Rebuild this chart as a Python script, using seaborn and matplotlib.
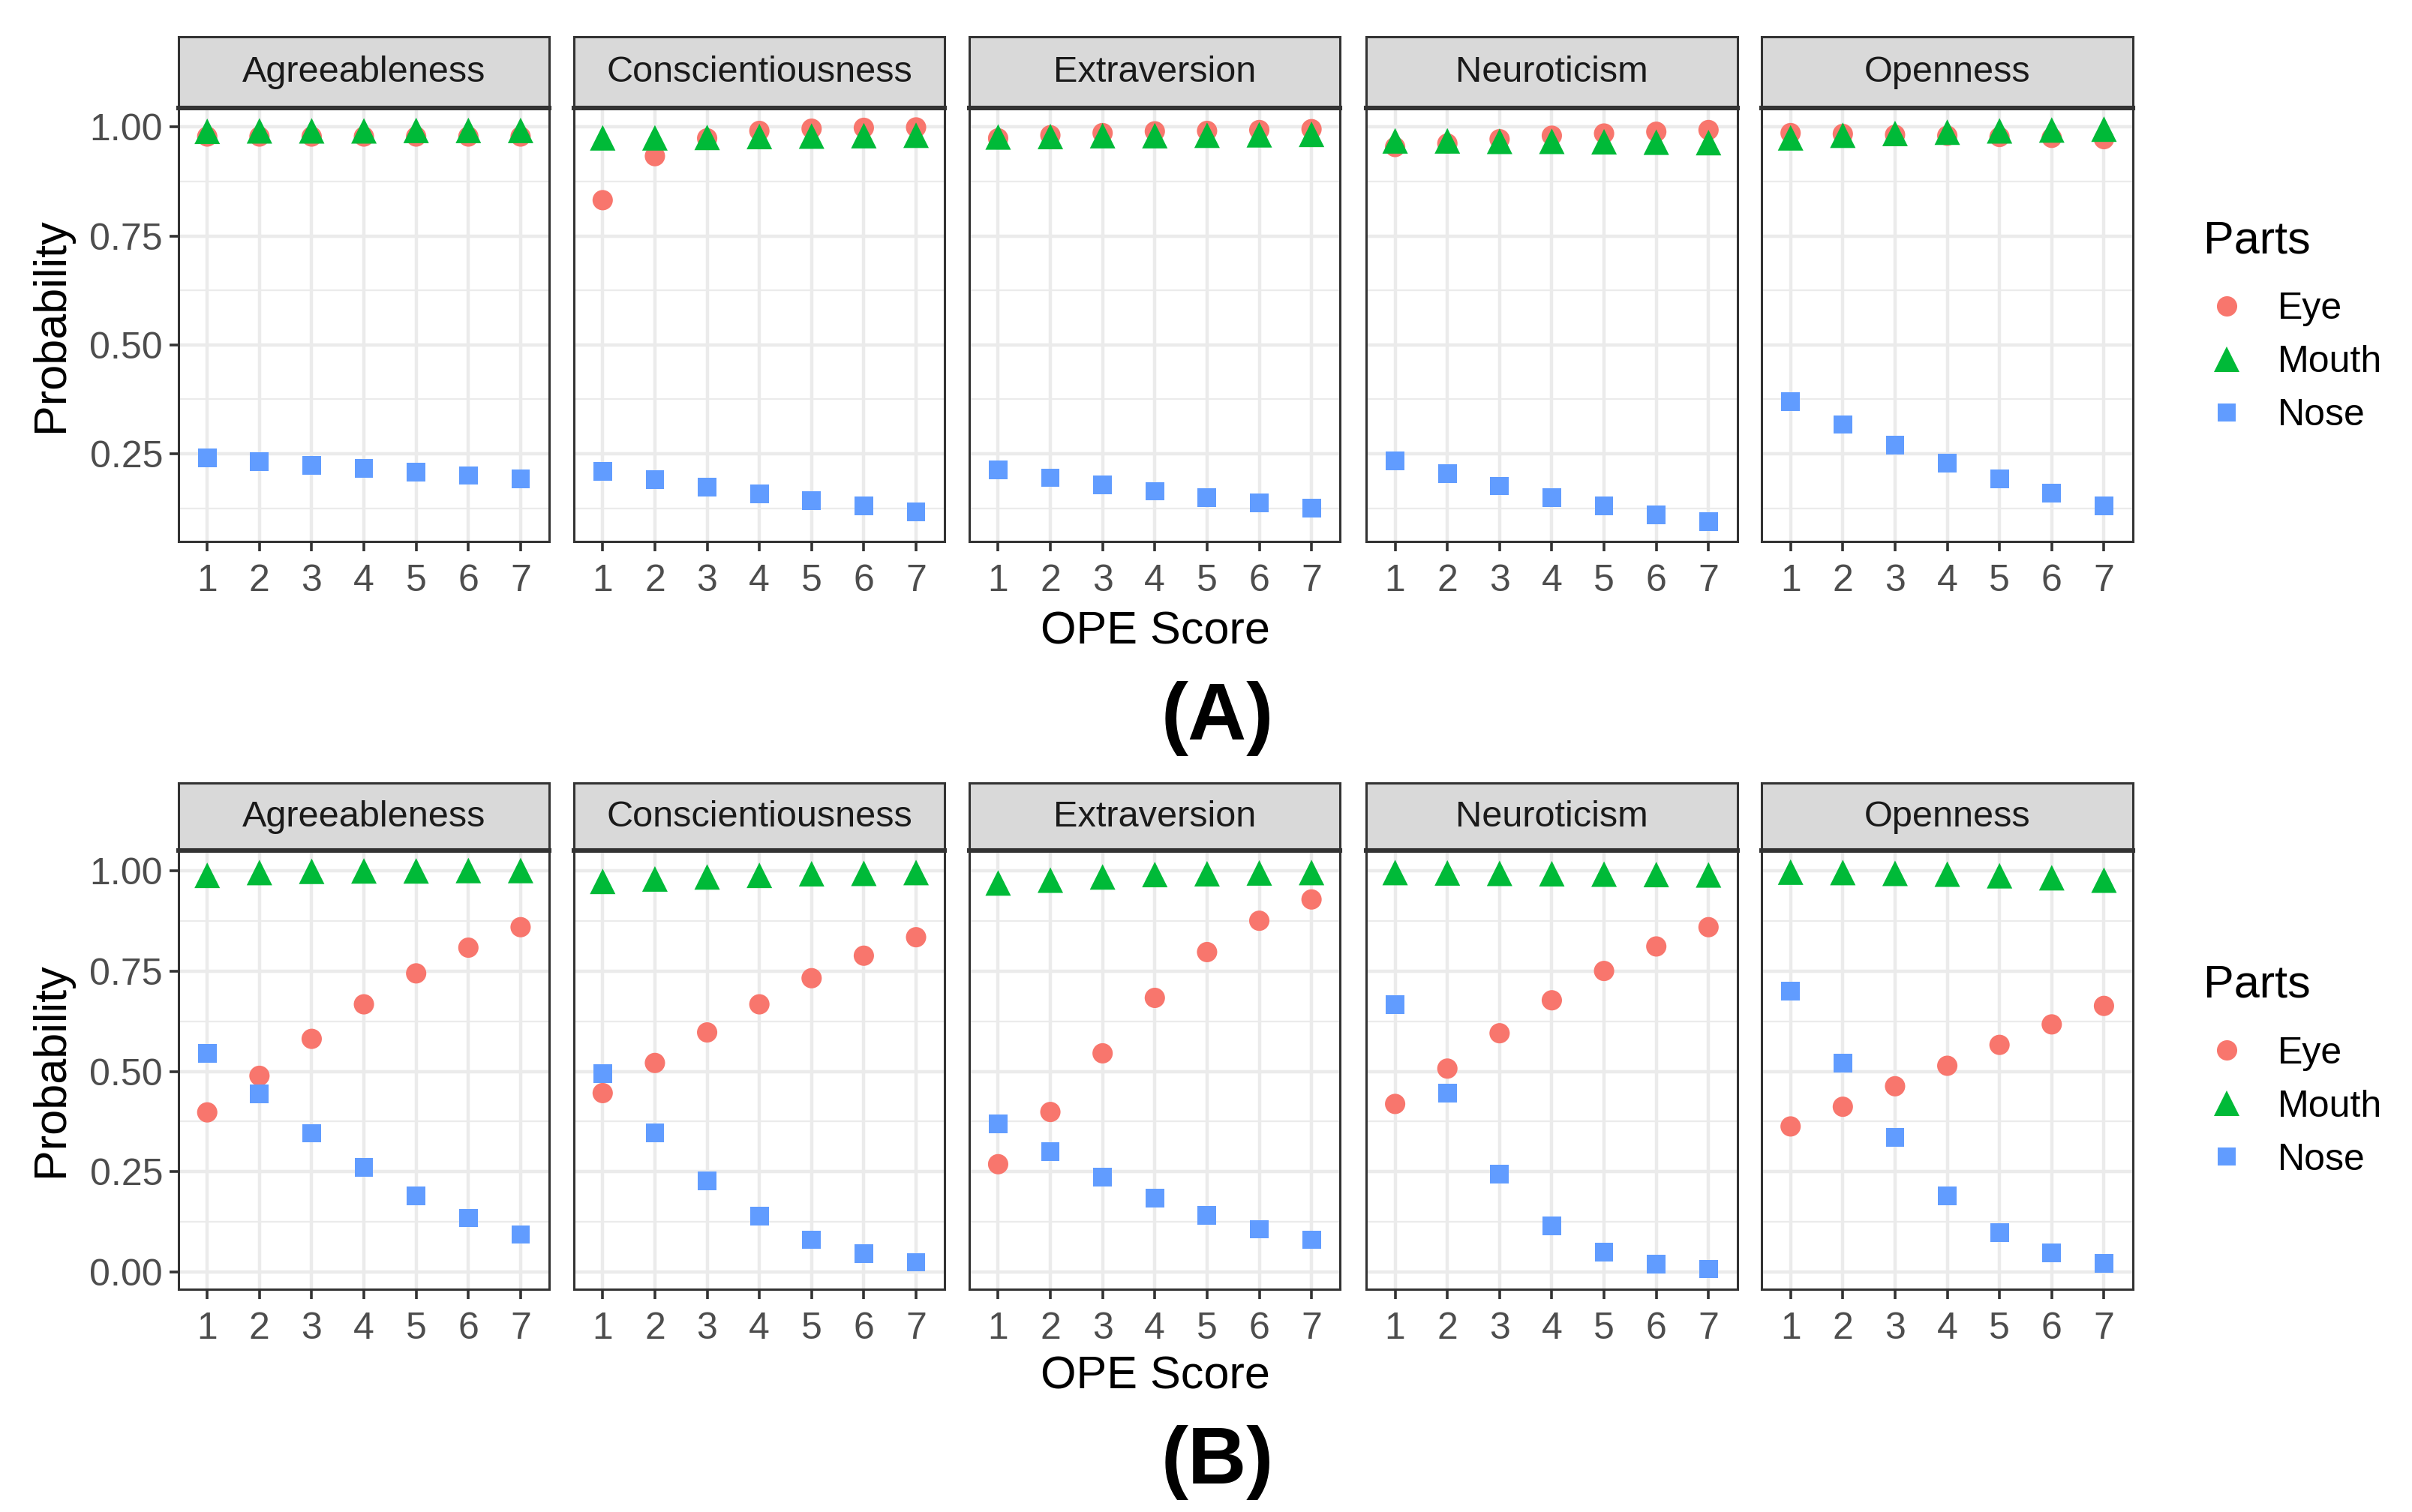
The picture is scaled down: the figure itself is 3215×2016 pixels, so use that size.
import numpy as np
import pandas as pd
import matplotlib
matplotlib.use("Agg")
import matplotlib.pyplot as plt
from matplotlib.ticker import MultipleLocator, FormatStrFormatter
import seaborn as sns

traits = ["Agreeableness", "Conscientiousness", "Extraversion", "Neuroticism", "Openness"]
scores = [1, 2, 3, 4, 5, 6, 7]
parts = ["Eye", "Mouth", "Nose"]
colors = {"Eye": "#F8766D", "Mouth": "#00BA38", "Nose": "#619CFF"}
markers = {"Eye": "o", "Mouth": "^", "Nose": "s"}
msizes = {"Eye": 95, "Mouth": 150, "Nose": 80}

# (A) one row per trait, values for OPE score 1..7
a_eye = [
    [0.978, 0.978, 0.978, 0.978, 0.978, 0.978, 0.978],
    [0.832, 0.933, 0.974, 0.991, 0.996, 0.998, 0.999],
    [0.974, 0.981, 0.986, 0.990, 0.991, 0.993, 0.995],
    [0.954, 0.962, 0.972, 0.980, 0.985, 0.989, 0.993],
    [0.986, 0.984, 0.982, 0.980, 0.977, 0.975, 0.972],
]
a_mouth = [
    [0.990, 0.991, 0.991, 0.991, 0.992, 0.992, 0.992],
    [0.975, 0.975, 0.976, 0.978, 0.979, 0.980, 0.981],
    [0.977, 0.978, 0.980, 0.980, 0.981, 0.982, 0.983],
    [0.968, 0.968, 0.967, 0.967, 0.966, 0.965, 0.964],
    [0.975, 0.981, 0.985, 0.988, 0.991, 0.993, 0.995],
]
a_nose = [
    [0.241, 0.232, 0.224, 0.216, 0.208, 0.200, 0.192],
    [0.209, 0.191, 0.173, 0.158, 0.143, 0.130, 0.117],
    [0.213, 0.195, 0.179, 0.164, 0.150, 0.137, 0.125],
    [0.234, 0.204, 0.176, 0.150, 0.130, 0.110, 0.094],
    [0.369, 0.317, 0.270, 0.228, 0.192, 0.159, 0.131],
]

# (B)
b_eye = [
    [0.398, 0.489, 0.581, 0.667, 0.744, 0.808, 0.859],
    [0.446, 0.521, 0.597, 0.667, 0.732, 0.788, 0.834],
    [0.269, 0.399, 0.545, 0.683, 0.797, 0.875, 0.928],
    [0.419, 0.507, 0.595, 0.677, 0.750, 0.811, 0.859],
    [0.363, 0.412, 0.463, 0.514, 0.566, 0.617, 0.663],
]
b_mouth = [
    [0.988, 0.995, 0.998, 0.999, 0.999, 1.000, 1.000],
    [0.973, 0.979, 0.984, 0.988, 0.992, 0.993, 0.995],
    [0.969, 0.976, 0.984, 0.990, 0.992, 0.994, 0.995],
    [0.995, 0.994, 0.993, 0.992, 0.991, 0.990, 0.989],
    [0.996, 0.995, 0.993, 0.991, 0.987, 0.982, 0.976],
]
b_nose = [
    [0.545, 0.444, 0.346, 0.261, 0.190, 0.135, 0.094],
    [0.494, 0.347, 0.227, 0.139, 0.081, 0.046, 0.025],
    [0.370, 0.300, 0.237, 0.184, 0.142, 0.107, 0.081],
    [0.666, 0.446, 0.245, 0.116, 0.050, 0.021, 0.008],
    [0.700, 0.520, 0.336, 0.190, 0.099, 0.048, 0.022],
]


def long_table(eye, mouth, nose):
    rows = []
    for part, block in zip(parts, [eye, mouth, nose]):
        for trait, vals in zip(traits, block):
            for s, v in zip(scores, vals):
                rows.append({"Trait": trait, "Score": s, "Parts": part, "Probability": v})
    return pd.DataFrame(rows)


sns.set_theme(style="white")
plt.rcParams["font.family"] = ["Liberation Sans", "DejaVu Sans"]

fig = plt.figure(figsize=(16.08, 10.08), dpi=200)
W, H = 1568.0, 983.0
border = "#333333"


def draw_row(df, top, bottom, strip_top, tag, tag_y, xlab_y, leg_y):
    lo, hi = df["Probability"].min(), df["Probability"].max()
    pad = 0.05 * (hi - lo)
    lefts = [116, 373, 630, 888, 1145]
    pw = 241
    last_ax = None
    for i, trait in enumerate(traits):
        ax = fig.add_axes([lefts[i] / W, 1 - bottom / H, pw / W, (bottom - top) / H])
        sub = df[df["Trait"] == trait]
        sns.scatterplot(data=sub, x="Score", y="Probability", hue="Parts", style="Parts",
                        size="Parts", sizes=msizes, size_order=parts,
                        hue_order=parts, style_order=parts, palette=colors, markers=markers,
                        linewidth=0, ax=ax, legend=(i == 4), zorder=3)
        ax.set_xlim(0.45, 7.55)
        ax.set_ylim(lo - pad, hi + pad)
        ax.set_xticks(scores)
        ax.yaxis.set_major_locator(MultipleLocator(0.25))
        ax.yaxis.set_minor_locator(MultipleLocator(0.125))
        ax.yaxis.set_major_formatter(FormatStrFormatter("%.2f"))
        ax.grid(which="major", color="#EBEBEB", lw=1.6)
        ax.grid(which="minor", axis="y", color="#EBEBEB", lw=0.8)
        ax.set_axisbelow(True)
        for sp in ax.spines.values():
            sp.set_color(border)
            sp.set_linewidth(1.1)
        ax.tick_params(axis="both", which="major", length=4.5, width=1.3, color=border,
                       labelsize=18, labelcolor="#4D4D4D", pad=3, left=True, bottom=True)
        ax.tick_params(axis="x", which="major", pad=6.5)
        ax.tick_params(axis="y", which="minor", length=0)
        ax.set_xlabel("")
        if i == 0:
            ax.set_ylabel("Probability", fontsize=22, color="black", labelpad=8)
        else:
            ax.set_ylabel("")
            ax.tick_params(axis="y", which="major", length=0, labelleft=False)
        sax = fig.add_axes([lefts[i] / W, 1 - top / H, pw / W, (top - strip_top) / H])
        sax.set_facecolor("#D9D9D9")
        sax.set_xticks([])
        sax.set_yticks([])
        for sp in sax.spines.values():
            sp.set_color(border)
            sp.set_linewidth(1.1)
        sax.spines["bottom"].set_linewidth(2.2)
        sax.text(0.5, 0.5, trait, ha="center", va="center", fontsize=17.5, color="#1A1A1A",
                 transform=sax.transAxes)
        last_ax = ax
    handles, labels = last_ax.get_legend_handles_labels()
    last_ax.get_legend().remove()
    leg = fig.legend(handles, labels, title="Parts", loc="upper left",
                     bbox_to_anchor=(1410 / W, 1 - leg_y / H), frameon=False,
                     fontsize=18, title_fontsize=22, labelspacing=0.5, handletextpad=0.74,
                     handlelength=1.23, alignment="left", markerscale=1.0, labelcolor="black")
    leg.get_title().set_color("black")
    leg._legend_box.sep = 14
    fig.text(751 / W, 1 - xlab_y / H, "OPE Score", ha="center", va="center", fontsize=22,
             color="black")
    fig.text(791 / W, 1 - tag_y / H, tag, ha="center", va="center", fontsize=39,
             fontweight="bold", color="black")


draw_row(long_table(a_eye, a_mouth, a_nose), top=70, bottom=352, strip_top=24,
         tag="(A)", tag_y=467, xlab_y=411, leg_y=121)
draw_row(long_table(b_eye, b_mouth, b_nose), top=553, bottom=838, strip_top=509,
         tag="(B)", tag_y=951, xlab_y=895, leg_y=605)

fig.savefig("out.png", dpi=200, facecolor="white")
